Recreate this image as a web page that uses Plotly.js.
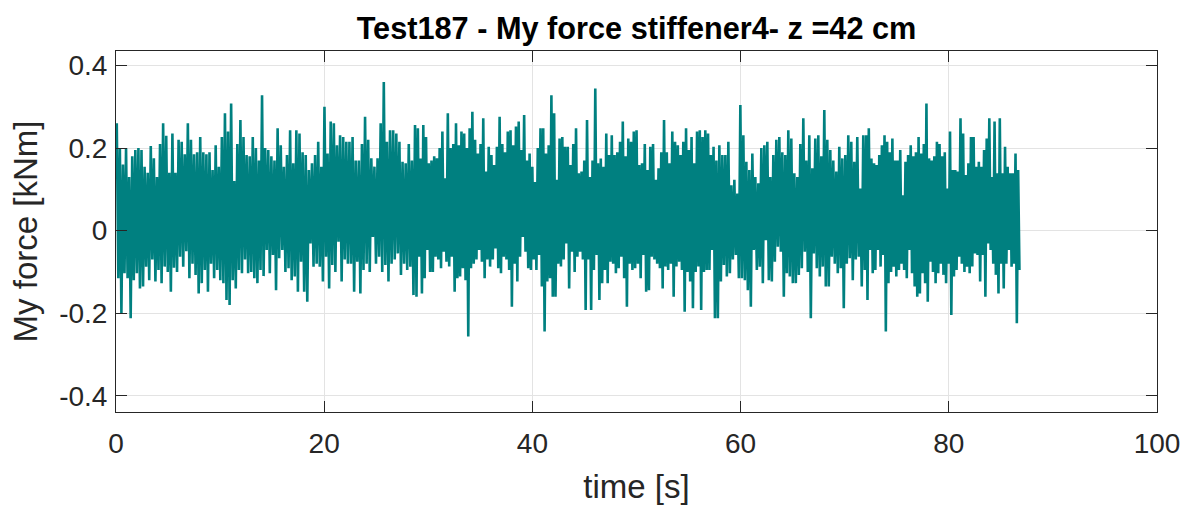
<!DOCTYPE html>
<html>
<head>
<meta charset="utf-8">
<script src="https://cdn.plot.ly/plotly-3.0.1.min.js"></script>
<style>
  html, body { margin: 0; padding: 0; background: #ffffff; }
  #chart { width: 1187px; height: 506px; }
</style>
</head>
<body>
<div id="chart"></div>
<script>
// ---- Data (My force [kNm] vs time [s]) ----
// Signal is listed per time window as alternating local maxima / minima.
const segStart = [0, 14.4, 28.8, 43.2, 57.6, 72.0];
const segEnd   = [14.4, 28.8, 43.2, 57.6, 72.0, 86.85];

const seg1Peaks   = [.26,.20,.16,.20,.13,.18,.195,.20,.195,.155,.14,.205,.175,.13,.21,.26,.23,.14,.235,.14,.22,.215,.185,.26,.22,.185,.19,.227,.19,.185,.19,.147,.207,.155,.227,.284,.24,.308,.12,.21,.268,.227,.183,.18,.227,.20,.17,.328,.20];
const seg1Troughs = [-.115,-.2,-.103,-.115,-.212,-.12,-.103,-.14,-.135,-.087,-.12,-.07,-.123,-.095,-.127,-.087,-.1,-.148,-.09,-.1,-.063,-.087,-.05,-.115,-.08,-.107,-.152,-.127,-.095,-.148,-.08,-.115,-.095,-.12,-.127,-.168,-.18,-.12,-.14,-.095,-.103,-.07,-.103,-.1,-.115,-.127,-.095,-.11];

const seg2Peaks   = [.195,.18,.17,.248,.207,.155,.183,.243,.163,.243,.235,.19,.183,.147,.163,.183,.215,.155,.30,.187,.264,.26,.207,.231,.227,.215,.215,.227,.17,.17,.21,.276,.22,.175,.155,.175,.26,.36,.215,.243,.243,.235,.215,.167,.163,.21,.17,.256];
const seg2Troughs = [-.047,-.103,-.059,-.144,-.067,-.047,-.1,-.091,-.12,-.111,-.148,-.075,-.148,-.172,-.031,-.087,-.08,-.087,-.123,-.063,-.14,-.083,-.1,-.027,-.123,-.07,-.08,-.08,-.148,-.075,-.152,-.095,-.08,-.1,-.015,-.08,-.063,-.1,-.083,-.123,-.08,-.07,-.055,-.107,-.08,-.095,-.087,-.156];

const seg3Peaks   = [.248,.175,.256,.227,.163,.17,.18,.175,.20,.24,.127,.284,.20,.21,.26,.207,.24,.235,.20,.248,.288,.22,.187,.21,.272,.143,.203,.183,.159,.203,.276,.21,.19,.24,.243,.207,.252,.264,.195,.28,.17,.187,.155,.118,.20,.248,.248,.187,.207,.328,.284,.123,.223,.227,.203];
const seg3Troughs = [-.16,-.063,-.152,-.115,-.047,-.1,-.1,-.063,-.07,-.091,-.051,-.075,-.087,-.063,-.148,-.115,-.111,-.091,-.12,-.256,-.091,-.08,-.07,-.047,-.075,-.115,-.07,-.087,-.07,-.043,-.091,-.103,-.063,-.07,-.095,-.184,-.08,-.123,-.063,-.015,-.051,-.091,-.095,-.07,-.095,-.059,-.135,-.244,-.123,-.115,-.16,-.16,-.08,-.087,-.07];

const seg4Peaks   = [.203,.159,.21,.248,.139,.143,.17,.268,.13,.17,.344,.163,.175,.155,.235,.183,.231,.183,.19,.215,.264,.18,.223,.215,.24,.243,.159,.163,.21,.147,.203,.21,.123,.151,.19,.268,.19,.163,.24,.215,.207,.183,.215,.248,.195,.227,.163,.24,.243,.227,.243,.235,.183,.203];
const seg4Troughs = [-.031,-.14,-.051,-.1,-.063,-.051,-.07,-.192,-.07,-.192,-.095,-.059,-.168,-.127,-.095,-.127,-.075,-.08,-.103,-.091,-.063,-.115,-.184,-.08,-.095,-.091,-.08,-.115,-.059,-.148,-.144,-.063,-.07,-.08,-.091,-.14,-.087,-.095,-.08,-.16,-.087,-.075,-.095,-.196,-.1,-.123,-.188,-.1,-.087,-.192,-.1,-.095,-.095,-.047,-.212];

const seg5Peaks   = [.17,.207,.183,.183,.215,.11,.123,.09,.304,.231,.167,.147,.187,.13,.115,.20,.207,.215,.13,.183,.22,.227,.19,.183,.243,.223,.139,.13,.21,.272,.17,.231,.151,.223,.231,.18,.292,.22,.195,.17,.143,.203,.175,.183,.231,.215,.167,.227,.102,.231];
const seg5Troughs = [-.212,-.123,-.083,-.111,-.103,-.07,-.059,-.115,-.115,-.12,-.144,-.184,-.047,-.095,-.087,-.127,-.023,-.12,-.123,-.075,-.039,-.051,-.16,-.103,-.111,-.127,-.127,-.107,-.091,-.051,-.1,-.212,-.055,-.091,-.111,-.087,-.135,-.135,-.063,-.08,-.103,-.091,-.188,-.08,-.067,-.12,-.07,-.063,-.135,-.095];

const seg6Peaks   = [.231,.248,.175,.163,.159,.183,.207,.231,.215,.19,.223,.17,.17,.195,.086,.167,.183,.207,.18,.19,.227,.187,.21,.308,.175,.17,.18,.215,.21,.18,.19,.102,.24,.147,.147,.143,.272,.235,.135,.163,.227,.227,.155,.167,.155,.195,.223,.272,.13,.264,.139,.272,.139,.203,.155,.139,.139,.187,.147];
const seg6Troughs = [-.168,-.047,-.103,-.095,-.047,-.087,-.059,-.244,-.127,-.1,-.087,-.111,-.095,-.08,-.095,-.115,-.047,-.103,-.135,-.16,-.152,-.103,-.127,-.172,-.075,-.1,-.127,-.103,-.08,-.107,-.127,-.08,-.204,-.111,-.095,-.063,-.08,-.1,-.087,-.103,-.087,-.055,-.059,-.123,-.059,-.16,-.031,-.047,-.08,-.107,-.152,-.08,-.14,-.08,-.047,-.087,-.08,-.224,-.095];

const xTicks = [0, 20, 40, 60, 80, 100];
const xTickText = ['0', '20', '40', '60', '80', '100'];
const yTicks = [-0.4, -0.2, 0, 0.2, 0.4];
const yTickText = ['-0.4', '-0.2', '0', '0.2', '0.4'];

const titleText = 'Test187 - My force stiffener4- z =42 cm';
const xTitle = 'time [s]';
const yTitle = 'My force [kNm]';

// ---- Build the sampled series: maxima and minima alternate, continuing across windows ----
const segPeaks = [seg1Peaks, seg2Peaks, seg3Peaks, seg4Peaks, seg5Peaks, seg6Peaks];
const segTroughs = [seg1Troughs, seg2Troughs, seg3Troughs, seg4Troughs, seg5Troughs, seg6Troughs];
const time = [], force = [];
let lastWasPeak = null;
for (let k = 0; k < segPeaks.length; k++) {
  const p = segPeaks[k], q = segTroughs[k];
  let startPeak;
  if (p.length > q.length) startPeak = true;
  else if (q.length > p.length) startPeak = false;
  else startPeak = (lastWasPeak === null) ? true : !lastWasPeak;
  const first = startPeak ? p : q, second = startPeak ? q : p;
  const vals = [];
  for (let i = 0; i < first.length; i++) {
    vals.push(first[i]);
    if (i < second.length) vals.push(second[i]);
  }
  lastWasPeak = (vals.length % 2 === 1) ? startPeak : !startPeak;
  const n = vals.length, s = segStart[k], e = segEnd[k];
  for (let i = 0; i < n; i++) {
    time.push(s + (i + 0.5) * (e - s) / n);
    force.push(vals[i]);
  }
}

const FONT = 'Liberation Sans, Arial, Helvetica, sans-serif';
const AX = '#262626';

const trace = {
  type: 'scatter', mode: 'lines',
  x: time, y: force,
  line: { color: '#008080', width: 2.6, simplify: false },
  hoverinfo: 'skip'
};

const common = {
  showline: true, linecolor: AX, linewidth: 1, mirror: 'allticks',
  ticks: 'inside', ticklen: 11, tickwidth: 1, tickcolor: AX,
  showgrid: true, gridcolor: '#e3e3e3', gridwidth: 1,
  zeroline: false, automargin: false,
  tickfont: { family: FONT, size: 28, color: AX }
};

const layout = {
  width: 1187, height: 506,
  margin: { l: 116, r: 30, t: 51, b: 94, pad: 0 },
  paper_bgcolor: '#ffffff', plot_bgcolor: '#ffffff',
  showlegend: false,
  title: {
    text: '<b>' + titleText + '</b>',
    font: { family: FONT, size: 30.7, color: '#000000' },
    x: 0.5, xref: 'paper', xanchor: 'center',
    y: 1 - 28 / 506, yref: 'container', yanchor: 'middle'
  },
  xaxis: Object.assign({}, common, {
    range: [0, 100], tickmode: 'array', tickvals: xTicks, ticktext: xTickText,
    ticklabelstandoff: 6,
    title: { text: xTitle, font: { family: FONT, size: 33, color: AX }, standoff: 17 }
  }),
  yaxis: Object.assign({}, common, {
    range: [-0.439, 0.435], tickmode: 'array', tickvals: yTicks, ticktext: yTickText,
    ticklabelstandoff: 2,
    title: { text: yTitle, font: { family: FONT, size: 33, color: AX }, standoff: 11 }
  })
};

Plotly.newPlot('chart', [trace], layout, { staticPlot: true, displayModeBar: false });
</script>
</body>
</html>
